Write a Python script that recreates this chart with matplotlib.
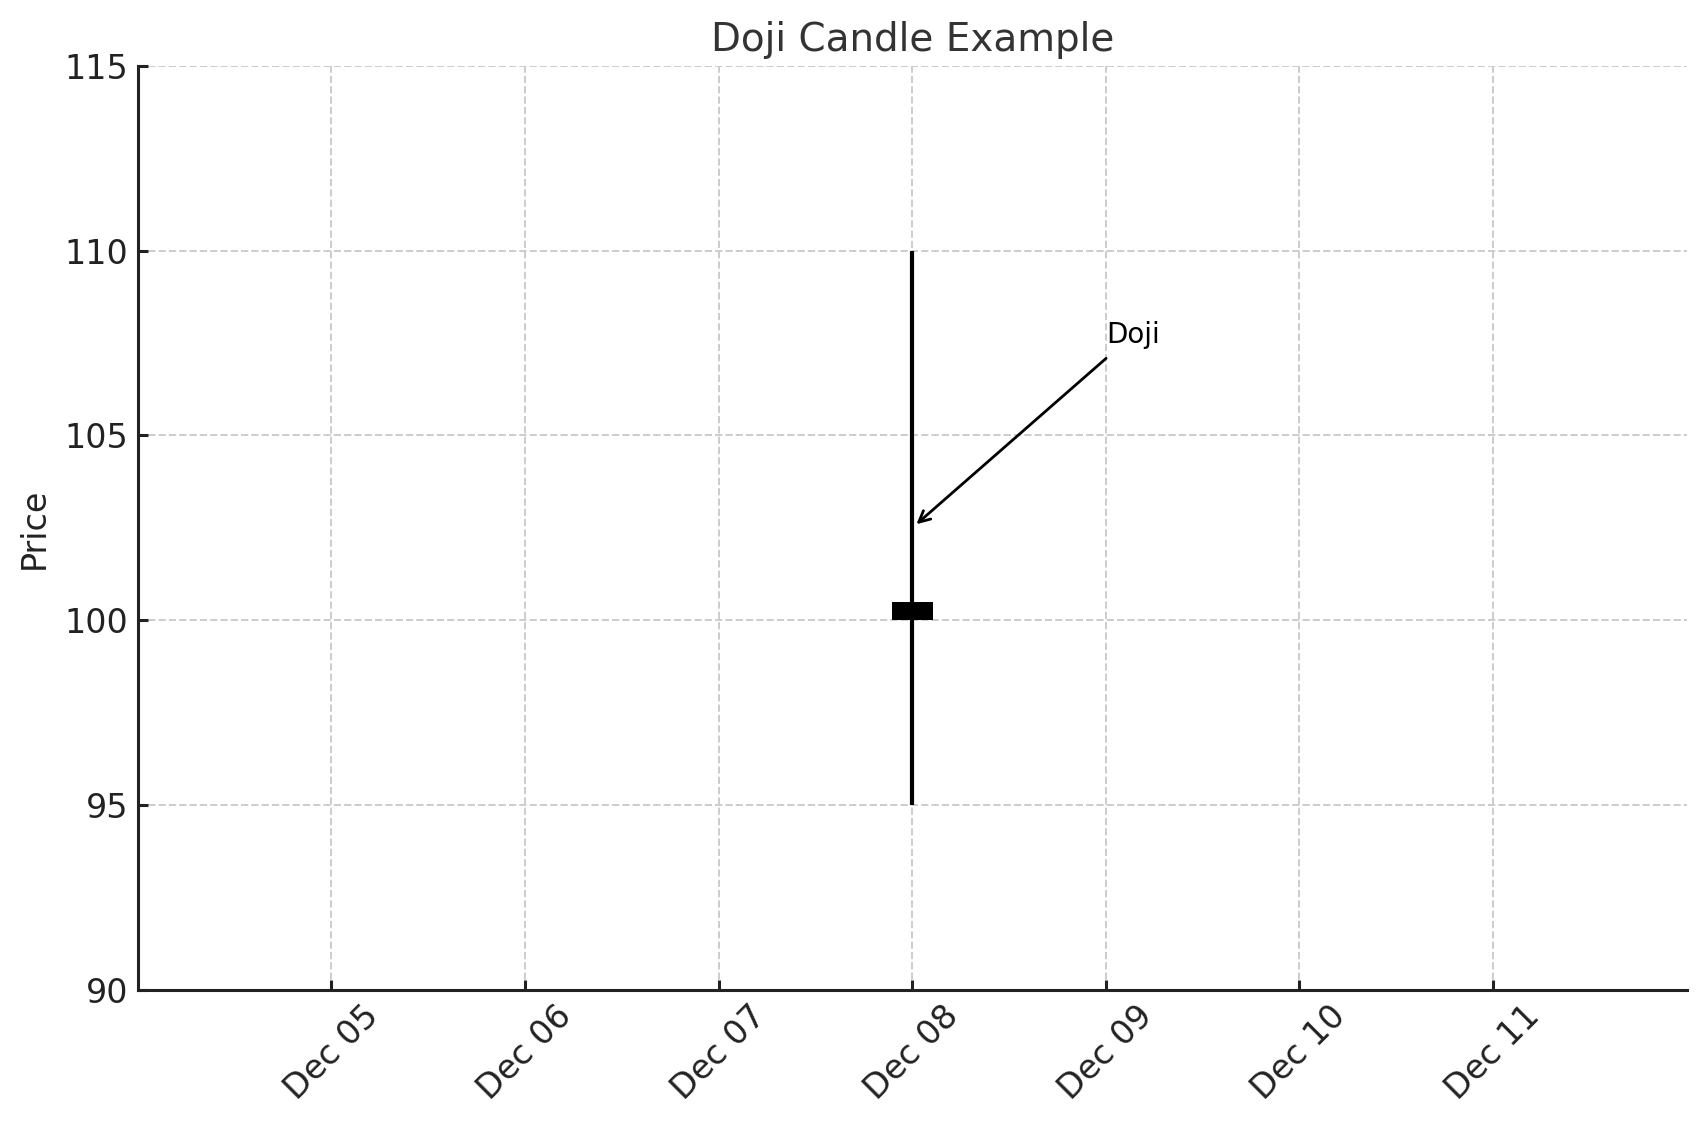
import matplotlib
matplotlib.use("Agg")
import matplotlib.pyplot as plt
import matplotlib.dates as mdates
import numpy as np
import datetime as dt

# Data
dates = [dt.datetime(2023, 12, 8)]
opens = [100.0]
closes = [100.5]
highs = [110.0]
lows = [95.0]
tick_dates = [dt.datetime(2023, 12, d) for d in range(5, 12)]
x_range = [dt.datetime(2023, 12, 4), dt.datetime(2023, 12, 12)]
y_range = [90, 115]
annot_text = "Doji"
annot_xy = (dt.datetime(2023, 12, 8), 102.5)
annot_xytext = (dt.datetime(2023, 12, 9), 107.5)
title = "Doji Candle Example"
ylabel = "Price"

plt.rcParams['font.family'] = ['DejaVu Sans']
fig = plt.figure(figsize=(1707 / 200, 1126 / 200), dpi=200)
ax = fig.add_axes([0.0808, 0.121, 0.988 - 0.0808, 0.9414 - 0.121])

body_width = 0.21
for d, o, c, h, l in zip(dates, opens, closes, highs, lows):
    xn = mdates.date2num(d)
    ax.plot([xn, xn], [l, h], color='black', lw=1.5, zorder=3, solid_capstyle='butt')
    ax.bar(xn, abs(c - o), bottom=min(o, c), width=body_width, color='black', zorder=3)

ax.annotate(annot_text, xy=(mdates.date2num(annot_xy[0]), annot_xy[1]),
            xytext=(mdates.date2num(annot_xytext[0]), annot_xytext[1]),
            fontsize=10, color='black',
            arrowprops=dict(arrowstyle='->', color='black', lw=1.0), zorder=4)

ax.set_xlim(mdates.date2num(x_range[0]), mdates.date2num(x_range[1]))
ax.set_ylim(*y_range)
ax.set_xticks(mdates.date2num(tick_dates))
ax.xaxis.set_major_formatter(mdates.DateFormatter('%b %d'))
ax.set_yticks(np.arange(90, 116, 5))

ax.set_title(title, fontsize=14, color='#333333', pad=5.5)
ax.set_ylabel(ylabel, fontsize=12, color='#222222', labelpad=5)

for s in ['top', 'right']:
    ax.spines[s].set_visible(False)
for s in ['left', 'bottom']:
    ax.spines[s].set_linewidth(1.1)
    ax.spines[s].set_color('#222222')

ax.tick_params(axis='both', direction='in', length=3.5, width=1.1, colors='#222222',
               labelsize=12, labelcolor='#222222')
plt.setp(ax.get_xticklabels(), rotation=45, ha='center')

ax.grid(True, linestyle='--', color='#cccccc', linewidth=0.7, zorder=0)
ax.set_axisbelow(True)

fig.savefig('out.png', dpi=200)
